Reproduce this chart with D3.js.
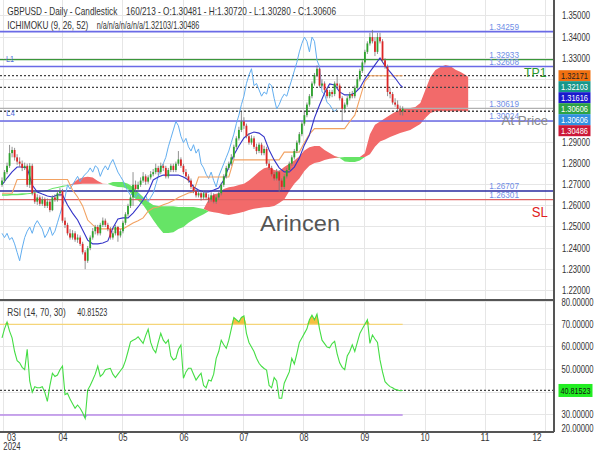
<!DOCTYPE html>
<html><head><meta charset="utf-8">
<script src="https://cdn.jsdelivr.net/npm/d3@7"></script>
<style>body{margin:0;background:#fff}svg{display:block;font-family:"Liberation Sans",Arial,sans-serif}</style>
</head><body><svg id="c" width="600" height="450"></svg>
<script>
// ---- DATA ----
const ohlc = [
[1.2700,1.2735,1.2690,1.2720],[1.2720,1.2770,1.2710,1.2760],[1.2760,1.2805,1.2750,1.2790],[1.2790,1.2889,1.2780,1.2850],[1.2850,1.2880,1.2830,1.2865],
[1.2865,1.2875,1.2815,1.2830],[1.2830,1.2845,1.2795,1.2810],[1.2810,1.2830,1.2785,1.2800],[1.2800,1.2815,1.2765,1.2780],[1.2780,1.2805,1.2770,1.2790],
[1.2790,1.2800,1.2690,1.2700],[1.2700,1.2803,1.2685,1.2790],[1.2790,1.2800,1.2650,1.2660],[1.2660,1.2675,1.2610,1.2620],[1.2620,1.2655,1.2605,1.2640],
[1.2640,1.2650,1.2600,1.2610],[1.2610,1.2645,1.2600,1.2630],[1.2630,1.2640,1.2590,1.2600],[1.2600,1.2635,1.2590,1.2620],[1.2620,1.2630,1.2570,1.2580],
[1.2580,1.2650,1.2575,1.2640],[1.2640,1.2655,1.2620,1.2630],[1.2630,1.2675,1.2620,1.2660],[1.2660,1.2685,1.2645,1.2670],[1.2670,1.2680,1.2520,1.2530],
[1.2530,1.2545,1.2495,1.2510],[1.2510,1.2520,1.2460,1.2470],[1.2470,1.2490,1.2440,1.2450],[1.2450,1.2485,1.2440,1.2470],[1.2470,1.2480,1.2430,1.2440],
[1.2440,1.2465,1.2425,1.2450],[1.2450,1.2460,1.2410,1.2420],[1.2420,1.2430,1.2370,1.2380],[1.2380,1.2390,1.2300,1.2340],[1.2340,1.2410,1.2330,1.2400],
[1.2400,1.2460,1.2390,1.2450],[1.2450,1.2495,1.2440,1.2480],[1.2480,1.2510,1.2465,1.2500],[1.2500,1.2510,1.2460,1.2470],[1.2470,1.2520,1.2460,1.2510],
[1.2510,1.2545,1.2500,1.2530],[1.2530,1.2540,1.2500,1.2510],[1.2510,1.2520,1.2480,1.2490],[1.2490,1.2500,1.2440,1.2450],[1.2450,1.2480,1.2440,1.2470],
[1.2470,1.2510,1.2460,1.2500],[1.2500,1.2505,1.2430,1.2460],[1.2460,1.2490,1.2450,1.2480],[1.2480,1.2530,1.2470,1.2520],[1.2520,1.2570,1.2510,1.2560],
[1.2560,1.2610,1.2550,1.2600],[1.2600,1.2650,1.2590,1.2640],[1.2640,1.2760,1.2600,1.2700],[1.2700,1.2720,1.2665,1.2680],[1.2680,1.2715,1.2670,1.2700],
[1.2700,1.2735,1.2690,1.2720],[1.2720,1.2760,1.2710,1.2740],[1.2740,1.2750,1.2700,1.2715],[1.2715,1.2745,1.2705,1.2735],[1.2735,1.2765,1.2725,1.2750],
[1.2750,1.2775,1.2740,1.2760],[1.2760,1.2800,1.2750,1.2780],[1.2780,1.2790,1.2745,1.2760],[1.2760,1.2805,1.2750,1.2790],[1.2790,1.2800,1.2765,1.2780],
[1.2780,1.2790,1.2730,1.2740],[1.2740,1.2780,1.2730,1.2770],[1.2770,1.2800,1.2760,1.2790],[1.2790,1.2800,1.2760,1.2770],[1.2770,1.2810,1.2760,1.2800],
[1.2800,1.2860,1.2790,1.2820],[1.2820,1.2830,1.2780,1.2790],[1.2790,1.2800,1.2750,1.2760],[1.2760,1.2775,1.2730,1.2740],[1.2740,1.2750,1.2710,1.2720],
[1.2720,1.2730,1.2680,1.2690],[1.2690,1.2700,1.2660,1.2670],[1.2670,1.2680,1.2640,1.2650],[1.2650,1.2675,1.2640,1.2660],[1.2660,1.2670,1.2625,1.2640],
[1.2640,1.2675,1.2630,1.2660],[1.2660,1.2670,1.2630,1.2640],[1.2640,1.2655,1.2615,1.2630],[1.2630,1.2665,1.2620,1.2650],[1.2650,1.2660,1.2612,1.2620],
[1.2620,1.2650,1.2610,1.2640],[1.2640,1.2670,1.2630,1.2660],[1.2660,1.2710,1.2650,1.2700],[1.2700,1.2750,1.2690,1.2740],[1.2740,1.2790,1.2730,1.2780],
[1.2780,1.2810,1.2770,1.2800],[1.2800,1.2845,1.2790,1.2830],[1.2830,1.2890,1.2820,1.2880],[1.2880,1.2930,1.2870,1.2920],[1.2920,1.2975,1.2910,1.2960],
[1.2960,1.3045,1.2950,1.3000],[1.3000,1.3020,1.2965,1.2980],[1.2980,1.2990,1.2920,1.2930],[1.2930,1.2945,1.2890,1.2900],[1.2900,1.2935,1.2890,1.2920],
[1.2920,1.2930,1.2870,1.2880],[1.2880,1.2895,1.2845,1.2860],[1.2860,1.2900,1.2850,1.2890],[1.2890,1.2900,1.2840,1.2850],[1.2850,1.2885,1.2840,1.2870],
[1.2870,1.2880,1.2790,1.2800],[1.2800,1.2815,1.2770,1.2780],[1.2780,1.2790,1.2740,1.2750],[1.2750,1.2760,1.2720,1.2730],[1.2730,1.2775,1.2720,1.2760],
[1.2760,1.2770,1.2665,1.2720],[1.2720,1.2730,1.2675,1.2690],[1.2690,1.2750,1.2680,1.2740],[1.2740,1.2780,1.2730,1.2770],[1.2770,1.2810,1.2760,1.2800],
[1.2800,1.2840,1.2790,1.2830],[1.2830,1.2870,1.2820,1.2860],[1.2860,1.2910,1.2850,1.2900],[1.2900,1.2950,1.2890,1.2940],[1.2940,1.3000,1.2930,1.2990],
[1.2990,1.3045,1.2980,1.3030],[1.3030,1.3090,1.3020,1.3080],[1.3080,1.3130,1.3070,1.3120],[1.3120,1.3190,1.3110,1.3180],[1.3180,1.3230,1.3170,1.3220],
[1.3220,1.3266,1.3210,1.3250],[1.3250,1.3255,1.3160,1.3170],[1.3170,1.3200,1.3160,1.3180],[1.3180,1.3190,1.3140,1.3150],[1.3150,1.3160,1.3110,1.3120],
[1.3120,1.3150,1.3110,1.3140],[1.3140,1.3150,1.3115,1.3130],[1.3130,1.3190,1.3120,1.3180],[1.3180,1.3215,1.3160,1.3170],[1.3170,1.3180,1.3100,1.3110],
[1.3110,1.3120,1.3001,1.3060],[1.3060,1.3090,1.3040,1.3080],[1.3080,1.3120,1.3070,1.3110],[1.3110,1.3140,1.3100,1.3130],[1.3130,1.3145,1.3110,1.3120],
[1.3120,1.3170,1.3110,1.3160],[1.3160,1.3210,1.3150,1.3200],[1.3200,1.3250,1.3190,1.3240],[1.3240,1.3290,1.3230,1.3280],[1.3280,1.3340,1.3270,1.3330],
[1.3330,1.3380,1.3320,1.3370],[1.3370,1.3420,1.3360,1.3400],[1.3400,1.3434,1.3370,1.3380],[1.3380,1.3400,1.3310,1.3330],[1.3330,1.3420,1.3320,1.3400],
[1.3400,1.3420,1.3370,1.3380],[1.3380,1.3390,1.3280,1.3290],[1.3290,1.3300,1.3250,1.3260],[1.3260,1.3270,1.3120,1.3140],[1.3140,1.3160,1.3110,1.3130],
[1.3130,1.3140,1.3080,1.3090],[1.3090,1.3110,1.3070,1.3080],[1.3080,1.3100,1.3050,1.3060],[1.3060,1.3075,1.3030,1.30481],[1.30481,1.30720,1.30280,1.30606]
];
// Ichimoku lines, one value every 2nd bar (bars 0,2,...,158) plus the last bar 159
const tenkan = [1.2699,1.2732,1.2761,1.2784,1.2784,1.2780,1.2699,1.2666,1.2656,1.2647,
1.2642,1.2652,1.2652,1.2604,1.2566,1.2533,1.2486,1.2438,1.2420,1.2420,
1.2424,1.2434,1.2495,1.2538,1.2543,1.2543,1.2566,1.2595,1.2628,1.2666,
1.2723,1.2737,1.2746,1.2746,1.2746,1.2746,1.2737,1.2723,1.2690,1.2675,
1.2666,1.2666,1.2675,1.2685,1.2723,1.2784,1.2841,1.2884,1.2922,1.2941,
1.2950,1.2945,1.2927,1.2865,1.2818,1.2780,1.2761,1.2761,1.2784,1.2827,
1.2889,1.2936,1.3017,1.3078,1.3135,1.3178,1.3173,1.3140,1.3126,1.3126,
1.3135,1.3159,1.3201,1.3235,1.3268,1.3301,1.3263,1.3235,1.3206,1.3173,1.31616];
const kijun = [1.2660,1.2660,1.2660,1.2725,1.2725,1.2725,1.2725,1.2725,1.2725,1.2725,
1.2725,1.2725,1.2725,1.2725,1.2675,1.2642,1.2600,1.2533,1.2510,1.2491,
1.2491,1.2491,1.2491,1.2491,1.2491,1.2505,1.2519,1.2530,1.2543,1.2575,
1.2590,1.2595,1.2605,1.2614,1.2625,1.2640,1.2650,1.2661,1.2666,1.2737,
1.2737,1.2737,1.2737,1.2737,1.2737,1.2737,1.2818,1.2818,1.2818,1.2818,
1.2818,1.2818,1.2818,1.2818,1.2818,1.2818,1.2855,1.2855,1.2855,1.2855,
1.2900,1.2940,1.2966,1.2966,1.2966,1.2966,1.2966,1.2966,1.2966,1.3000,
1.3030,1.3110,1.3190,1.3217,1.3217,1.3217,1.3217,1.3217,1.3217,1.3217,1.32171];
// Cloud spans, one value every 2nd bar (bars 0,2,...,184) plus bar 185
const spanA = [1.2648,1.2648,1.2650,1.2650,1.2652,1.2655,1.2658,1.2665,1.2668,1.2672,
1.2680,1.2685,1.2690,1.2695,1.2705,1.2725,1.2735,1.2738,1.2735,1.2718,
1.2706,1.2705,1.2695,1.2690,1.2688,1.2680,1.2642,1.2625,1.2604,1.2570,
1.2533,1.2500,1.2472,1.2472,1.2475,1.2490,1.2500,1.2520,1.2535,1.2548,
1.2560,1.2630,1.2655,1.2660,1.2680,1.2688,1.2692,1.2699,1.2705,1.2720,
1.2740,1.2762,1.2778,1.2784,1.2770,1.2765,1.2784,1.2800,1.2815,1.2835,
1.2862,1.2878,1.2884,1.2884,1.2865,1.2851,1.2837,1.2827,1.2810,1.2808,
1.2808,1.2815,1.2850,1.2940,1.2985,1.3000,1.3015,1.3031,1.3045,1.3055,
1.3060,1.3064,1.3069,1.3088,1.3149,1.3211,1.3244,1.3258,1.3268,1.3262,
1.3245,1.3235,1.3220,1.32103];
const spanB = [1.2655,1.2655,1.2658,1.2658,1.2660,1.2660,1.2662,1.2668,1.2670,1.2675,
1.2685,1.2690,1.2695,1.2698,1.2700,1.2703,1.2705,1.2705,1.2705,1.2705,
1.2705,1.2705,1.2713,1.2713,1.2713,1.2705,1.2690,1.2665,1.2642,1.2620,
1.2604,1.2600,1.2598,1.2598,1.2598,1.2595,1.2595,1.2595,1.2595,1.2590,
1.2585,1.2575,1.2570,1.2566,1.2560,1.2557,1.2562,1.2566,1.2572,1.2580,
1.2586,1.2590,1.2594,1.2595,1.2600,1.2614,1.2630,1.2670,1.2705,1.2730,
1.2765,1.2790,1.2803,1.2808,1.2818,1.2823,1.2827,1.2829,1.2832,1.2832,
1.2832,1.2832,1.2832,1.2845,1.2880,1.2905,1.2915,1.2927,1.2936,1.2945,
1.2952,1.2960,1.2974,1.2988,1.3017,1.3040,1.30486,1.30486,1.30486,1.30486,
1.30486,1.30486,1.30486,1.30486];
const rsi = [64,68,71,67,64,58,54,53,51,50, 59,45,40,42.5,42,42,42.5,40,36,43,
48.4,47,47.6,50,51.6,39,39.6,37,35,33, 34.4,33,31,28.5,41,43,45.4,48,51.6,47,
48,50,50.3,50.6,48,46.5,48,49.5,51,54, 58,62.3,63,63.5,64.5,63,61.6,65,67.8,62,
59,57.5,62,66,63,61.6,63.1,56,54.3,55, 59,60.9,46.2,49,50.6,50.6,48,45.4,47,48.4,
43,42,45.4,45,48,55,58,63,61,59.4, 63,68,73,72,71.1,73,73.7,66,62,60,
58,55,52.8,51.5,50.5,49.8,43,42,46.5,45, 37.4,37.4,44,46.5,49,55,52.5,57,62,64,
66,68,72,74,72,74.5,68,63,61.5,60, 59.6,61.5,62.5,57,53,51,50,56,58,61,
58,62,66,68,70,72,61.6,65.3,63.5,62, 54.3,49,44.7,43.5,42.5,42,41.3,41,40.7,40.815];
const monthLabels = ["03","04","05","06","07","08","09","10","11","12"];
const monthBars = [0.4,24.2,48,72.2,96,119.8,144,167.9,191.7,215.5];
const priceTicks = [1.22,1.23,1.24,1.25,1.26,1.27,1.28,1.29,1.30,1.31,1.32,1.33,1.34,1.35,1.36];
const rsiTicks = [20,30,40,50,60,70,80];
const levelValues = [1.34259,1.32933,1.32608,1.30619,1.30024,1.26707,1.26301];
const dottedValues = [1.32171,1.31616,1.30486];
const lastValues = [1.32171,1.32103,1.31616,1.30606,1.30606,1.30486];
const rsiLevels = [70,30];
const rsiLast = 40.81523;

// ---- SCALES ----
const svg = d3.select('#c');
const X = d3.scaleLinear().domain([-0.794,219.05]).range([0,554]);
const Y = d3.scaleLinear().domain([1.2154,1.35758]).range([300,0]);
const R = d3.scaleLinear().domain([22.5,80.72]).range([432,300]);
const lineBars = d3.range(0,160,2).concat([159]);
const cloudBars = d3.range(0,186,2).concat([185]);

const defs = svg.append('defs');
defs.append('clipPath').attr('id','cm').append('rect').attr('x',0).attr('y',0).attr('width',554).attr('height',300);
defs.append('clipPath').attr('id','cr').append('rect').attr('x',0).attr('y',300).attr('width',554).attr('height',132);

function T(g,x,y,s,o){
  const t=g.append('text').attr('x',x).attr('y',y).text(s)
    .attr('font-size',o.size||10).attr('fill',o.fill||'#333').attr('text-anchor',o.anchor||'start');
  if(o.w) t.attr('textLength',o.w).attr('lengthAdjust','spacingAndGlyphs');
  return t;
}

// ---- GRID ----
const grid = svg.append('g').attr('shape-rendering','crispEdges');
priceTicks.forEach(v=>{ if(Y(v)>=0&&Y(v)<=300) grid.append('line').attr('x1',0).attr('x2',554).attr('y1',Y(v)).attr('y2',Y(v)).attr('stroke','#e6e6e6'); });
rsiTicks.forEach(v=>{ if(R(v)>=300&&R(v)<=432) grid.append('line').attr('x1',0).attr('x2',554).attr('y1',R(v)).attr('y2',R(v)).attr('stroke','#e6e6e6'); });
monthBars.forEach(b=>grid.append('line').attr('x1',X(b)).attr('x2',X(b)).attr('y1',0).attr('y2',432).attr('stroke','#e6e6e6'));

// ---- MAIN PANEL ----
const gm = svg.append('g').attr('clip-path','url(#cm)');
const cloud = cloudBars.map((b,k)=>({b,a:spanA[k],s:spanB[k]}));
gm.append('path').datum(cloud).attr('fill','#f26a6a')
  .attr('d',d3.area().x(d=>X(d.b)).y0(d=>Y(d.s)).y1(d=>Y(Math.max(d.a,d.s))));
gm.append('path').datum(cloud).attr('fill','#66e466')
  .attr('d',d3.area().x(d=>X(d.b)).y0(d=>Y(d.s)).y1(d=>Y(Math.min(d.a,d.s))));

// level lines
const lvlColors=['#6a6ae6','#3a963a','#6a6ae6','#b0b0b0','#6a6ae6','#2a2aa0','#e06464'];
levelValues.forEach((v,i)=>gm.append('line').attr('x1',0).attr('x2',554).attr('y1',Y(v)).attr('y2',Y(v))
  .attr('stroke',lvlColors[i]).attr('stroke-width',(i===1||i===3||i===6)?1.2:1.6));
dottedValues.forEach(v=>gm.append('line').attr('x1',0).attr('x2',554).attr('y1',Y(v)).attr('y2',Y(v))
  .attr('stroke','#444').attr('stroke-width',1.3).attr('stroke-dasharray','2,2'));

// chikou
const chikouBars = d3.range(0,ohlc.length-26);
gm.append('path').datum(chikouBars).attr('fill','none').attr('stroke','#62aef0').attr('stroke-width',1)
  .attr('d',d3.line().x(i=>X(i)).y(i=>Y(ohlc[i+26][3])));
// kijun, tenkan
gm.append('path').datum(lineBars).attr('fill','none').attr('stroke','#f2a262').attr('stroke-width',1.1)
  .attr('d',d3.line().x(b=>X(b)).y((b,k)=>Y(kijun[k])));
gm.append('path').datum(lineBars).attr('fill','none').attr('stroke','#3434c8').attr('stroke-width',1.1)
  .attr('d',d3.line().x(b=>X(b)).y((b,k)=>Y(tenkan[k])));

// candles
const gc = gm.append('g');
ohlc.forEach((d,i)=>{
  const [o,h,l,c]=d, x=X(i), up=c>=o;
  gc.append('line').attr('x1',x).attr('x2',x).attr('y1',Y(h)).attr('y2',Y(l)).attr('stroke','#777').attr('stroke-width',0.8);
  const y1=Y(Math.max(o,c)), y2=Y(Math.min(o,c));
  gc.append('rect').attr('x',x-0.9).attr('width',1.8).attr('y',y1).attr('height',Math.max(1,y2-y1))
    .attr('fill',up?'#2ea32e':'#dd2626');
});

// ---- RSI PANEL ----
const gr = svg.append('g').attr('clip-path','url(#cr)');
const rsiBars = d3.range(0,rsi.length);
gr.append('path').datum(rsiBars).attr('fill','#f5c040')
  .attr('d',d3.area().x(i=>X(i)).y0(R(70)).y1(i=>R(Math.max(rsi[i],70))));
gr.append('path').datum(rsiBars).attr('fill','#8fa0f0')
  .attr('d',d3.area().x(i=>X(i)).y0(R(30)).y1(i=>R(Math.min(rsi[i],30))));
gr.append('line').attr('x1',0).attr('x2',X(159)).attr('y1',R(rsiLevels[0])).attr('y2',R(rsiLevels[0])).attr('stroke','#f5d57a').attr('stroke-width',1.3);
gr.append('line').attr('x1',0).attr('x2',X(159)).attr('y1',R(rsiLevels[1])).attr('y2',R(rsiLevels[1])).attr('stroke','#b88ae8').attr('stroke-width',1.3);
gr.append('line').attr('x1',0).attr('x2',554).attr('y1',R(rsiLast)).attr('y2',R(rsiLast)).attr('stroke','#444').attr('stroke-width',1.3).attr('stroke-dasharray','2,2');
gr.append('path').datum(rsiBars).attr('fill','none').attr('stroke','#44dd44').attr('stroke-width',1.1)
  .attr('d',d3.line().x(i=>X(i)).y(i=>R(rsi[i])));

// ---- FRAME ----
const fr = svg.append('g').attr('shape-rendering','crispEdges');
fr.append('line').attr('x1',554).attr('x2',554).attr('y1',0).attr('y2',432).attr('stroke','#555').attr('stroke-width',1.2);
fr.append('line').attr('x1',0).attr('x2',554).attr('y1',300).attr('y2',300).attr('stroke','#555').attr('stroke-width',1.2);
fr.append('line').attr('x1',0).attr('x2',554).attr('y1',432).attr('y2',432).attr('stroke','#555').attr('stroke-width',1.2);

// ---- AXIS LABELS ----
const ga = svg.append('g');
// right value boxes (stacked) – computed first so covered tick labels are skipped
const boxCols=['#f07010','#17978a','#1a1acd','#2ca345','#3090e0','#cc1838'];
const boxText=['#222','#fff','#fff','#fff','#fff','#fff'];
let prev=-100;
const boxY = lastValues.map(v=>{ const yc=Math.max(Y(v),prev+11); prev=yc; return yc; });
const covered = y => boxY.some(b=>Math.abs(b-y)<9);
priceTicks.forEach(v=>{ if(!covered(Y(v))) T(ga,562,Y(v)+3.5,v.toFixed(5),{size:10,w:28}); });
rsiTicks.forEach(v=>{ if(Math.abs(R(v)-R(rsiLast))>9) T(ga,561.5,Math.min(Math.max(R(v),302.5),428)+3.5,v.toFixed(5),{size:10,w:32}); });
monthLabels.forEach((m,i)=>T(ga,Math.min(Math.max(X(monthBars[i]),11.5),537),440.5,m,{size:10,anchor:'middle',w:9}));
T(ga,3.3,449.5,'2024',{size:10,w:17.4});

lastValues.forEach((v,i)=>{
  const yc=boxY[i];
  ga.append('rect').attr('x',558.5).attr('y',yc-5.5).attr('width',32).attr('height',11).attr('fill',boxCols[i]);
  T(ga,574.5,yc+3.3,v.toFixed(5),{size:9,fill:boxText[i],anchor:'middle',w:27});
});
ga.append('rect').attr('x',558.5).attr('y',R(rsiLast)-6.5).attr('width',34).attr('height',13).attr('fill','#22ee22');
T(ga,575.5,R(rsiLast)+3.5,rsiLast.toFixed(5),{size:9.5,fill:'#111',anchor:'middle',w:30});

// level labels
levelValues.forEach(v=>T(ga,489.3,Y(v)-1.8,v.toFixed(5),{size:9.5,fill:'#6f8ee6',w:29.7}));
T(ga,524,76.5,'TP1',{size:13,fill:'#2a9a2a',w:22.7});
T(ga,501.5,125,'At Price',{size:13,fill:'#8a8a8a',w:46.7});
T(ga,531.7,216.5,'SL',{size:14,fill:'#e02020',w:16});
T(ga,6,62,'L1',{size:9,fill:'#5570dd',w:8});
T(ga,6,115.5,'L4',{size:9,fill:'#5570dd',w:9});
T(ga,260,231,'Arincen',{size:22,fill:'#555',w:80});

// headers
T(ga,7.3,14.5,'GBPUSD - Daily - Candlestick',{size:11,w:110});
T(ga,126,14.5,'160/213 - O:1.30481 - H:1.30720 - L:1.30280 - C:1.30606',{size:11,w:210});
T(ga,7.3,28.5,'ICHIMOKU (9, 26, 52)',{size:11,w:81});
T(ga,96.7,28.5,'n/a/n/a/n/a/n/a/1.32103/1.30486',{size:11,w:102.6});
T(ga,7.3,315.5,'RSI (14, 70, 30)',{size:11,w:58.4});
T(ga,77.3,315.5,'40.81523',{size:11,w:30});
</script></body></html>
